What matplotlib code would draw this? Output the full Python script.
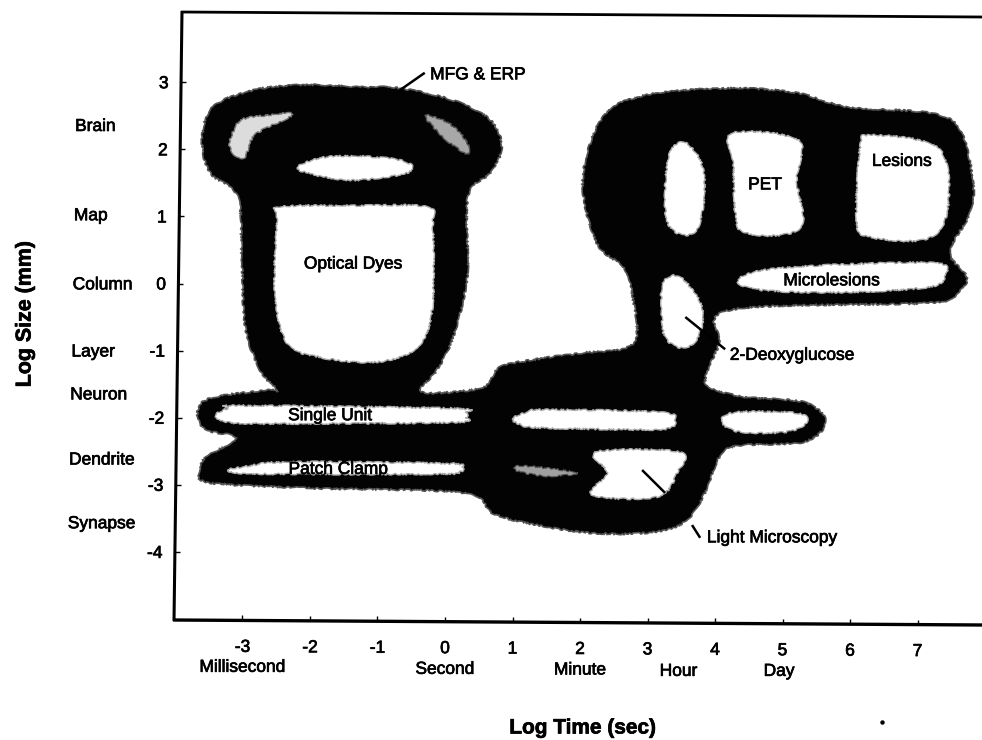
import matplotlib
matplotlib.use("Agg")
import matplotlib.pyplot as plt
import matplotlib.patheffects as pe
import matplotlib.transforms as mtransforms
from matplotlib.lines import Line2D
from matplotlib.patches import PathPatch
from matplotlib.path import Path

plt.rcParams['font.family'] = ['Liberation Sans', 'DejaVu Sans']

# Log time (x), log size (y) outlines
coverage_x = [-0.37,-0.07,0.58,0.83,1.54,2.00,2.79,2.77,2.64,2.25,2.04,2.34,2.99,4.22,5.21,5.96,7.19,7.63,7.82,7.78,7.48,7.73,7.59,7.14,4.25,4.07,3.88,3.91,4.43,5.32,5.64,5.32,4.43,4.10,3.85,3.59,3.14,2.18,1.21,0.70,0.25,-2.00,-3.48,-3.63,-3.54,-3.10,-3.54,-3.67,-3.48,-2.64,-2.49,-2.74,-2.96,-3.01,-3.07,-3.48,-3.60,-3.44,-2.84,-2.10,-1.30,-0.67,0.12,0.67,0.84,0.67,0.34,0.33,0.12,-0.12]
coverage_y = [-1.59,-1.63,-1.54,-1.24,-1.10,-1.04,-0.89,-0.14,0.25,0.60,1.54,2.48,2.81,2.91,2.84,2.63,2.54,2.29,1.54,1.05,0.47,0.10,-0.14,-0.29,-0.39,-0.89,-1.33,-1.54,-1.69,-1.77,-2.06,-2.36,-2.41,-2.53,-3.12,-3.52,-3.70,-3.72,-3.57,-3.42,-3.12,-3.05,-2.97,-2.78,-2.59,-2.30,-2.18,-1.93,-1.71,-1.59,-1.59,-1.29,-0.65,0.35,1.29,1.65,2.14,2.63,2.88,2.96,2.93,2.91,2.73,2.44,2.03,1.65,1.29,0.10,-0.80,-1.29]

crescent_left_x = [-3.19,-3.04,-2.70,-2.25,-2.81,-2.96,-3.11]
crescent_left_y = [2.09,2.42,2.50,2.52,2.22,1.89,1.91]
crescent_right_x = [-0.30,0.07,0.33,0.34,0.03]
crescent_right_y = [2.50,2.38,2.10,1.93,2.13]
brain_oval_x = [-2.19,-1.85,-1.33,-0.67,-0.47,-0.67,-1.33,-1.85]
brain_oval_y = [1.72,1.87,1.90,1.84,1.72,1.62,1.54,1.60]
dyes_x = [-2.44,-1.35,-0.27,-0.18,-0.19,-0.41,-1.01,-1.85,-2.34,-2.52,-2.49]
dyes_y = [1.14,1.16,1.14,0.84,-0.39,-0.95,-1.17,-1.10,-0.89,-0.14,0.95]
oval_x = [3.53,3.78,3.85,3.75,3.53,3.30,3.26,3.33]
oval_y = [2.11,1.84,1.39,0.84,0.72,0.90,1.39,1.94]
pet_x = [4.25,5.23,5.21,5.30,4.96,4.41,4.30,4.27]
pet_y = [2.24,2.14,1.54,0.90,0.72,0.77,1.05,1.80]
lesions_x = [6.30,7.19,7.45,7.41,7.08,6.30,6.10,6.15]
lesions_y = [2.21,2.09,1.69,0.95,0.65,0.69,0.90,2.03]
microlesions_x = [4.34,4.96,7.19,7.41,7.19,5.96,4.71]
microlesions_y = [0.05,0.23,0.31,0.13,-0.05,-0.13,-0.10]
deoxy_x = [3.23,3.48,3.81,3.75,3.51,3.26,3.21]
deoxy_y = [0.01,0.10,-0.35,-0.80,-0.96,-0.80,-0.39]
unit_left_x = [-3.40,-3.22,-3.00,0.10,0.30,0.31,0.10,-2.64,-3.20]
unit_left_y = [-1.97,-1.86,-1.82,-1.86,-1.92,-2.00,-2.07,-2.09,-2.07]
unit_mid_x = [1.00,1.20,1.50,3.20,3.42,3.35,3.01,1.41,1.12]
unit_mid_y = [-2.02,-1.92,-1.88,-1.92,-2.05,-2.14,-2.18,-2.15,-2.10]
unit_right_x = [4.10,4.30,5.20,5.36,5.07,4.36]
unit_right_y = [-2.06,-1.92,-1.93,-2.06,-2.21,-2.21]
patch_left_x = [-3.22,-2.90,-2.33,0.00,0.25,0.22,-0.07,-2.33,-3.00]
patch_left_y = [-2.78,-2.72,-2.66,-2.68,-2.74,-2.81,-2.84,-2.84,-2.83]
patch_mid_x = [1.02,1.21,1.96,1.54,1.16]
patch_mid_y = [-2.75,-2.72,-2.82,-2.87,-2.82]
micro_x = [2.24,3.47,3.44,3.14,2.18,2.40]
micro_y = [-2.51,-2.51,-2.82,-3.18,-3.15,-2.82]

leaders = [
    ([-0.67, -0.30], [2.88, 3.14]),
    ([3.56, 4.15], [-0.50, -0.98]),
    ([2.92, 3.26], [-2.78, -3.12]),
    ([3.66, 3.78], [-3.60, -3.79]),
]

x_ticks = [-3, -2, -1, 0, 1, 2, 3, 4, 5, 6, 7]
x_tick_labels = ['-3', '-2', '-1', '0', '1', '2', '3', '4', '5', '6', '7']
y_ticks = [3, 2, 1, 0, -1, -2, -3, -4]
y_tick_labels = ['3', '2', '1', '0', '-1', '-2', '-3', '-4']

size_names = ['Brain', 'Map', 'Column', 'Layer', 'Neuron', 'Dendrite', 'Synapse']
size_name_y = [2.34, 1.01, -0.02, -1.02, -1.66, -2.63, -3.58]
time_names = ['Millisecond', 'Second', 'Minute', 'Hour', 'Day']
time_name_x = [-3.0, 0.0, 2.0, 3.46, 4.95]

W, H = 982, 740
fig = plt.figure(figsize=(W / 100, H / 100), dpi=100, facecolor='white')
L, R, T, B = 178, 982, 12, 622
ax = fig.add_axes([L / W, 1 - B / H, (R - L) / W, (B - T) / H])
ax.set_xlim((L - 445) / 67.5, (R - 445) / 67.5)
ax.set_ylim((283.5 - B) / 67.1, (283.5 - T) / 67.1)
for s in ax.spines.values():
    s.set_visible(False)


def blob(xs, ys, fc, ec, lw, z):
    pts = list(zip(xs, ys))
    n = len(pts)
    verts = [pts[0]]
    codes = [Path.MOVETO]
    for i in range(n):
        p0, p1, p2, p3 = pts[i - 1], pts[i], pts[(i + 1) % n], pts[(i + 2) % n]
        c1 = (p1[0] + (p2[0] - p0[0]) / 6, p1[1] + (p2[1] - p0[1]) / 6)
        c2 = (p2[0] - (p3[0] - p1[0]) / 6, p2[1] - (p3[1] - p1[1]) / 6)
        verts += [c1, c2, p2]
        codes += [Path.CURVE4] * 3
    patch = PathPatch(Path(verts, codes), facecolor=fc, edgecolor=ec, linewidth=lw, zorder=z)
    patch.set_sketch_params(scale=0.8, length=8, randomness=16)
    ax.add_patch(patch)


blob(coverage_x, coverage_y, '#030303', '#555555', 1.2, 2)
for xs, ys in [(brain_oval_x, brain_oval_y), (dyes_x, dyes_y), (oval_x, oval_y), (pet_x, pet_y),
               (lesions_x, lesions_y), (microlesions_x, microlesions_y), (deoxy_x, deoxy_y),
               (unit_left_x, unit_left_y), (unit_mid_x, unit_mid_y), (unit_right_x, unit_right_y),
               (patch_left_x, patch_left_y), (micro_x, micro_y)]:
    blob(xs, ys, 'white', '#aaaaaa', 1.0, 3)
blob(crescent_left_x, crescent_left_y, '#dcdcdc', '#777777', 1.0, 3)
blob(crescent_right_x, crescent_right_y, '#a8a8a8', '#555555', 1.0, 3)
blob(patch_mid_x, patch_mid_y, '#a0a0a0', '#555555', 0.8, 3)

for xs, ys in leaders:
    ax.plot(xs, ys, color='black', lw=1.8, zorder=4, solid_capstyle='butt', clip_on=False)

thick = [pe.withStroke(linewidth=0.5, foreground='black')]
fs = 12.5


def label(x, y, s, ha='center', **kw):
    ax.text(x, y, s, ha=ha, va='center', fontsize=fs, color='black', zorder=5,
            path_effects=thick, clip_on=False, **kw)


label(-0.22, 3.11, 'MFG & ERP', ha='left')
label(-1.36, 0.29, 'Optical Dyes')
label(4.74, 1.47, 'PET')
label(6.77, 1.82, 'Lesions')
label(5.73, 0.04, 'Microlesions')
label(-1.70, -1.97, 'Single Unit')
label(-1.58, -2.77, 'Patch Clamp')
label(4.22, -1.07, '2-Deoxyglucose', ha='left')
label(3.88, -3.79, 'Light Microscopy', ha='left')

for i, (name, y) in enumerate(zip(size_names, size_name_y)):
    label(-5.48 - 0.018 * i, y, name, ha='left')
for name, x, dy in zip(time_names, time_name_x, [-5.72, -5.75, -5.76, -5.78, -5.78]):
    label(x, dy, name)

ax.set_xticks(x_ticks, x_tick_labels, fontsize=fs)
ax.set_yticks(y_ticks, y_tick_labels, fontsize=fs)
ax.tick_params(axis='both', direction='in', length=3.6, width=1.0, color='black')
ax.tick_params(axis='x', pad=14)
ax.tick_params(axis='y', pad=9)
fig.canvas.draw()
for t in ax.yaxis.get_major_ticks():
    py = 283.5 - t.get_loc() * 67.1
    off = mtransforms.Affine2D().translate(182 - 8 * (py - 11) / 609 - L, 0)
    t.tick1line.set_transform(t.tick1line.get_transform() + off)
    t.label1.set_transform(t.label1.get_transform() + off)
    t.label1.set_path_effects(thick)
for t in ax.xaxis.get_major_ticks():
    px = 445 + t.get_loc() * 67.5
    off = mtransforms.Affine2D().translate(0, B - (620 + 5 * (px - 174) / 808))
    t.tick1line.set_transform(t.tick1line.get_transform() + off)
    t.label1.set_transform(t.label1.get_transform() + off)
    t.label1.set_path_effects(thick)

for (x0, y0), (x1, y1), lw in [((182, 11), (174, 621), 2.2), ((173, 620), (982, 625), 2.4), ((181, 12), (982, 17), 2.0)]:
    fig.add_artist(Line2D([x0 / W, x1 / W], [1 - y0 / H, 1 - y1 / H], color='black', lw=lw, zorder=6,
                          solid_capstyle='butt'))

ax.set_xlabel('Log Time (sec)', fontsize=15, fontweight='bold', path_effects=thick)
ax.xaxis.set_label_coords((583 - L) / (R - L), (B - 728) / (B - T), transform=ax.transAxes)
ax.xaxis.label.set_va('center')
ax.set_ylabel('Log Size (mm)', fontsize=15.4, fontweight='bold', path_effects=thick)
ax.yaxis.set_label_coords((25 - L) / (R - L), (B - 314) / (B - T), transform=ax.transAxes)
ax.yaxis.label.set_va('center')

ax.plot([6.47], [-6.53], marker='o', ms=2.2, color='black', clip_on=False, zorder=5)

fig.savefig('out.png', dpi=100, facecolor='white')
